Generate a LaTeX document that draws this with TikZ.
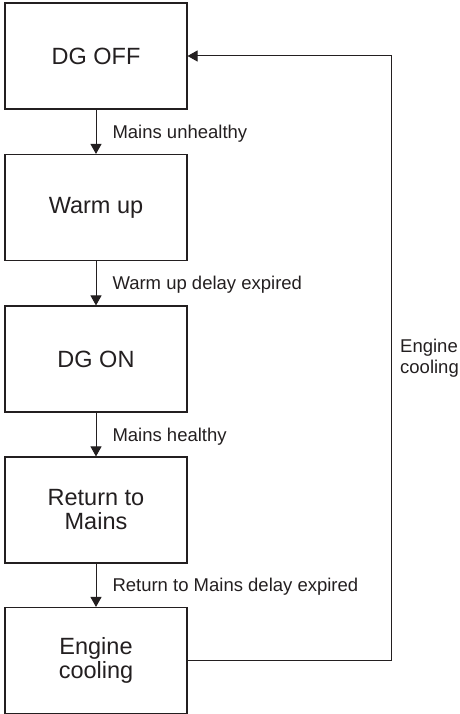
\documentclass[tikz,border=0pt]{standalone}
\usepackage{fontspec}
\setmainfont{Liberation Sans}
\usetikzlibrary{arrows.meta}
\definecolor{ink}{HTML}{231F20}
\tikzset{
  statebox/.style={draw=ink, line width=1.1pt, minimum width=182pt, minimum height=106pt,
    inner sep=0pt, align=center, text=ink, font=\fontsize{23.5}{24}\selectfont},
  flow/.style={draw=ink, line width=1pt, -{Triangle[width=11pt,length=10pt]}},
  lbl/.style={inner sep=0pt, text=ink, anchor=west, text height=13.25pt, text depth=0pt,
    font=\fontsize{18.5}{21}\selectfont},
}
\begin{document}
\begin{tikzpicture}[x=1pt,y=1pt]
\useasboundingbox (0,0) rectangle (459,714);
\node[statebox] (b1) at (96,658) {DG OFF};
\node[statebox] (b2) at (96,506.5) {Warm up};
\node[statebox] (b3) at (96,355) {DG ON};
\node[statebox] (b4) at (96,204) {Return to\\Mains};
\node[statebox] (b5) at (96,53.5) {Engine\\cooling};
\coordinate (fb) at (391,658);
\draw[flow] (b1) -- node[lbl, pos=0.5, xshift=16pt] (l1) {Mains unhealthy} (b2);
\draw[flow] (b2) -- node[lbl, pos=0.5, xshift=16pt] (l2) {Warm up delay expired} (b3);
\draw[flow] (b3) -- node[lbl, pos=0.5, xshift=16pt] (l3) {Mains healthy} (b4);
\draw[flow] (b4) -- node[lbl, pos=0.5, xshift=16pt] (l4) {Return to Mains delay expired} (b5);
\draw[flow] (b5.east) -| (fb) -- (b1.east);
\node[inner sep=0pt, anchor=north west, align=left, text=ink, font=\fontsize{18.5}{21}\selectfont] (l5) at (400,375) {Engine\\cooling};
\end{tikzpicture}
\end{document}
